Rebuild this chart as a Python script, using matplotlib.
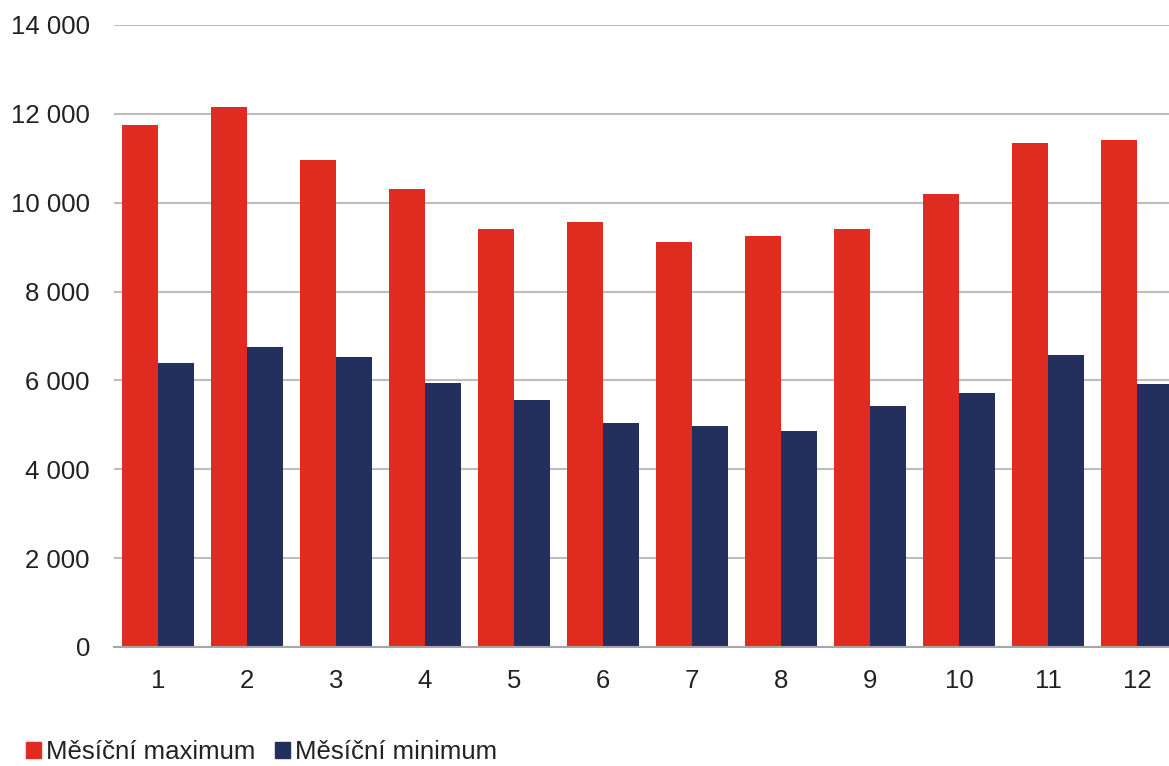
import numpy as np
import matplotlib
matplotlib.use("Agg")
from matplotlib import pyplot as plt
from matplotlib.patches import Patch

months = ['1', '2', '3', '4', '5', '6', '7', '8', '9', '10', '11', '12']
monthly_max = [11750, 12150, 10960, 10310, 9410, 9560, 9110, 9250, 9410, 10200, 11340, 11410]
monthly_min = [6390, 6750, 6530, 5940, 5560, 5040, 4970, 4860, 5420, 5720, 6570, 5920]
yticks = [0, 2000, 4000, 6000, 8000, 10000, 12000, 14000]
ytick_labels = ['0', '2 000', '4 000', '6 000', '8 000', '10 000', '12 000', '14 000']

red = '#e02b20'
navy = '#23305e'

plt.rcParams['font.family'] = ['Liberation Sans', 'DejaVu Sans']

W, H = 1169, 766
fig = plt.figure(figsize=(W / 100, H / 100), dpi=100)
left, right, top, bottom = 113.5, 1169, 25, 647
ax = fig.add_axes([left / W, 1 - bottom / H, (right - left) / W, (bottom - top) / H])

x = np.arange(1, len(months) + 1)
w = 0.4
ax.bar(x - w / 2, monthly_max, w, color=red, zorder=3)
ax.bar(x + w / 2, monthly_min, w, color=navy, zorder=3)

ax.set_xlim(0.5, 12 + (1169 - 1137) / 89)
ax.set_ylim(0, 14000)
ax.set_xticks(x)
ax.set_xticklabels(months)
ax.set_yticks(yticks)
ax.set_yticklabels(ytick_labels)
ax.tick_params(axis='both', length=0, labelsize=18.5, colors='#222222')
ax.tick_params(axis='x', pad=16)
ax.tick_params(axis='y', pad=17)

ax.grid(axis='y', color='#bdbdbd', linewidth=1.5, zorder=0)
for s in ['top', 'right', 'left']:
    ax.spines[s].set_visible(False)
ax.spines['bottom'].set_color('#a6a6a6')
ax.spines['bottom'].set_linewidth(1.5)
ax.spines['bottom'].set_zorder(4)

handles = [Patch(color=red, label='Měsíční maximum'),
           Patch(color=navy, label='Měsíční minimum')]
fig.legend(handles=handles, loc='center left', bbox_to_anchor=(26 / W, 1 - 752 / H),
           ncol=2, frameon=False, fontsize=18.5, handlelength=0.58, handleheight=0.58,
           handletextpad=0.18, columnspacing=0.8, borderaxespad=0, borderpad=0,
           labelcolor='#222222')

plt.savefig('out.png', dpi=100)
